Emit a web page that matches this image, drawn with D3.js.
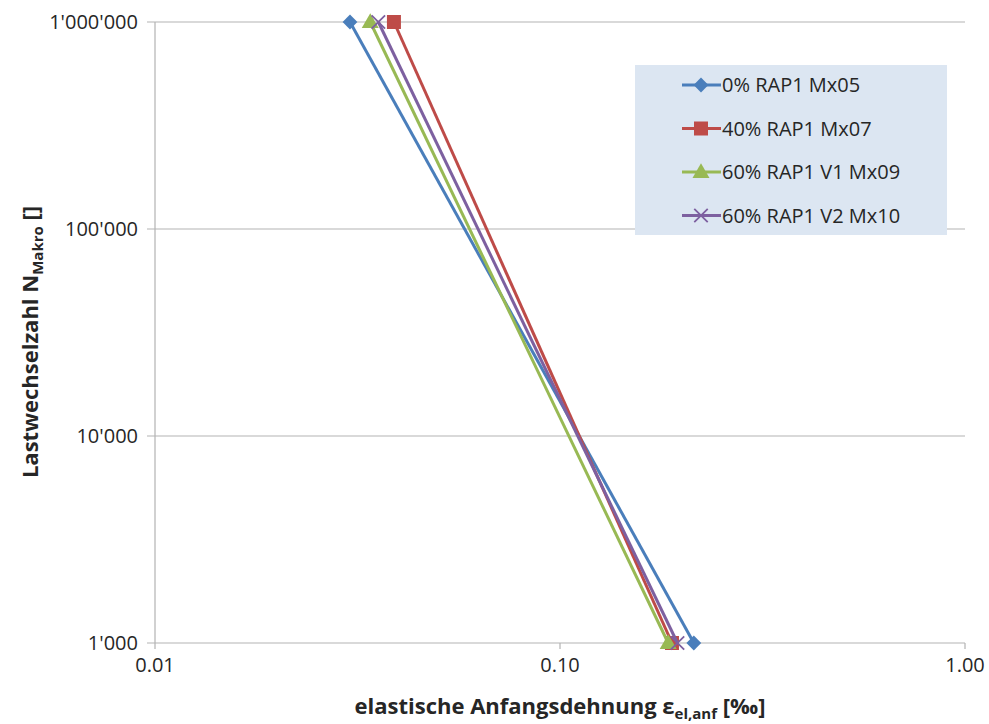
<!DOCTYPE html>
<html>
<head>
<meta charset="utf-8">
<script src="https://cdn.jsdelivr.net/npm/d3@7"></script>
<style>
  body { margin: 0; background: #fff; }
  text { font-family: "Open Sans", "Liberation Sans", sans-serif; }
</style>
</head>
<body>
<div id="chart"></div>
<script>
// data (strain in per mille vs. load cycles)
var seriesNames = ["0% RAP1 Mx05", "40% RAP1 Mx07", "60% RAP1 V1 Mx09", "60% RAP1 V2 Mx10"];
var seriesColors = ["#4a7ebb", "#be4b48", "#98b954", "#7d60a0"];
var seriesMarkers = ["diamond", "square", "triangle", "cross"];
var cycles = [1000000, 1000];
var strain0 = [0.0303, 0.214];
var strain40 = [0.0389, 0.189];
var strain60v1 = [0.0340, 0.185];
var strain60v2 = [0.0356, 0.195];
var xTicks = [0.01, 0.1, 1];
var yTicks = [1000, 10000, 100000, 1000000];
var yTickLabels = ["1'000", "10'000", "100'000", "1'000'000"];

var margin = {top: 22, right: 24, bottom: 81, left: 155},
    width = 989 - margin.left - margin.right,
    height = 724 - margin.top - margin.bottom;

var svg = d3.select("#chart")
  .append("svg")
    .attr("width", 989)
    .attr("height", 724)
  .append("g")
    .attr("transform", "translate(" + margin.left + "," + margin.top + ")");

var x = d3.scaleLog().domain([0.01, 1]).range([0, width]);
var y = d3.scaleLog().domain([1000, 1000000]).range([height, 0]);

// horizontal grid lines
svg.append("g")
  .selectAll("line")
  .data(yTicks)
  .enter()
  .append("line")
    .attr("x1", -8)
    .attr("x2", width)
    .attr("y1", function(d) { return y(d); })
    .attr("y2", function(d) { return y(d); })
    .style("stroke", "#b3b3b3")
    .style("stroke-width", 1.2);

// left axis line
svg.append("line")
  .attr("x1", 0).attr("x2", 0)
  .attr("y1", 0).attr("y2", height)
  .style("stroke", "#b3b3b3")
  .style("stroke-width", 1.2);

// x ticks
svg.append("g")
  .selectAll("line")
  .data(xTicks)
  .enter()
  .append("line")
    .attr("x1", function(d) { return x(d); })
    .attr("x2", function(d) { return x(d); })
    .attr("y1", height)
    .attr("y2", height + 6)
    .style("stroke", "#b3b3b3")
    .style("stroke-width", 1.2);

// y tick labels
svg.append("g")
  .selectAll("text")
  .data(yTicks)
  .enter()
  .append("text")
    .attr("x", -17)
    .attr("y", function(d) { return y(d); })
    .attr("dy", "0.35em")
    .attr("text-anchor", "end")
    .style("font-size", "20px")
    .style("fill", "#262626")
    .text(function(d, i) { return yTickLabels[i]; });

// x tick labels
svg.append("g")
  .selectAll("text")
  .data(xTicks)
  .enter()
  .append("text")
    .attr("x", function(d) { return x(d); })
    .attr("y", height + 29)
    .attr("text-anchor", "middle")
    .style("font-size", "20px")
    .style("fill", "#262626")
    .text(function(d) { return d3.format(".2f")(d); });

// series
var allSeries = [strain0, strain40, strain60v1, strain60v2];
var line = d3.line()
  .x(function(d) { return x(d[0]); })
  .y(function(d) { return y(d[1]); });

function drawMarker(g, kind, color, cx, cy) {
  if (kind === "diamond") {
    g.append("path")
      .attr("d", d3.symbol().type(d3.symbolDiamond2).size(140)())
      .attr("transform", "translate(" + cx + "," + cy + ")")
      .style("fill", color);
  } else if (kind === "square") {
    g.append("rect")
      .attr("x", cx - 7).attr("y", cy - 7)
      .attr("width", 14).attr("height", 14)
      .style("fill", color);
  } else if (kind === "triangle") {
    g.append("path")
      .attr("d", d3.symbol().type(d3.symbolTriangle).size(125)())
      .attr("transform", "translate(" + cx + "," + (cy + 1) + ")")
      .style("fill", color);
  } else {
    g.append("path")
      .attr("d", d3.symbol().type(d3.symbolX).size(120)())
      .attr("transform", "translate(" + cx + "," + cy + ")")
      .style("fill", "none")
      .style("stroke", color)
      .style("stroke-width", 1.8);
  }
}

allSeries.forEach(function(s, i) {
  var pts = s.map(function(v, j) { return [v, cycles[j]]; });
  svg.append("path")
    .datum(pts)
    .attr("d", line)
    .style("fill", "none")
    .style("stroke", seriesColors[i])
    .style("stroke-width", 3);
  pts.forEach(function(p) {
    drawMarker(svg, seriesMarkers[i], seriesColors[i], x(p[0]), y(p[1]));
  });
});

// legend
var legend = svg.append("g")
  .attr("transform", "translate(" + (635 - margin.left) + "," + (65 - margin.top) + ")");
legend.append("rect")
  .attr("width", 312)
  .attr("height", 170)
  .style("fill", "#dce6f2");
seriesNames.forEach(function(name, i) {
  var ly = 20 + i * 43.5;
  legend.append("line")
    .attr("x1", 47).attr("x2", 86)
    .attr("y1", ly).attr("y2", ly)
    .style("stroke", seriesColors[i])
    .style("stroke-width", 3);
  drawMarker(legend, seriesMarkers[i], seriesColors[i], 66, ly);
  legend.append("text")
    .attr("x", 87)
    .attr("y", ly)
    .attr("dy", "0.35em")
    .style("font-size", "20px")
    .style("fill", "#262626")
    .text(name);
});

// axis titles
var xTitle = svg.append("text")
  .attr("x", width / 2)
  .attr("y", height + 71)
  .attr("text-anchor", "middle")
  .style("font-size", "22px")
  .style("font-weight", "bold")
  .style("fill", "#262626");
xTitle.append("tspan").text("elastische Anfangsdehnung \u03b5");
xTitle.append("tspan").attr("dy", 5).style("font-size", "15px").text("el,anf");
xTitle.append("tspan").attr("dy", -5).text(" [\u2030]");

var yTitle = svg.append("text")
  .attr("transform", "rotate(-90)")
  .attr("x", -320)
  .attr("y", -117)
  .attr("text-anchor", "middle")
  .style("font-size", "22px")
  .style("font-weight", "bold")
  .style("fill", "#262626");
yTitle.append("tspan").text("Lastwechselzahl N");
yTitle.append("tspan").attr("dy", 5).style("font-size", "15px").text("Makro");
yTitle.append("tspan").attr("dy", -5).text(" []");
</script>
</body>
</html>
